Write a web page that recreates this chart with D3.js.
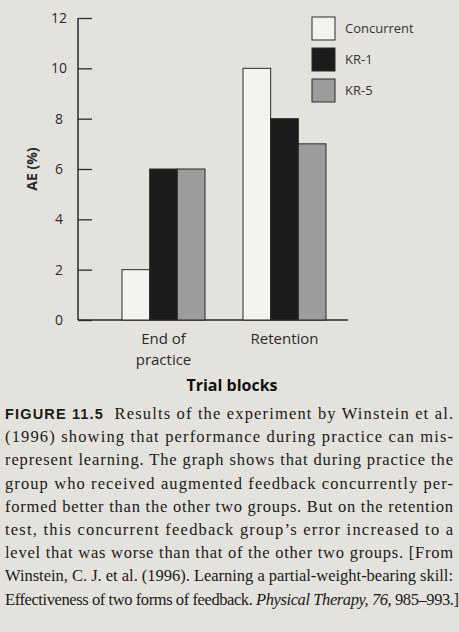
<!DOCTYPE html>
<html><head><meta charset="utf-8">
<script src="https://cdn.jsdelivr.net/npm/d3@7"></script>
<style>body{margin:0;background:#e4e2dc}svg{display:block}</style>
</head><body>
<svg id="chart" width="459" height="632"></svg>
<script>
// data
const blocks = ["End of practice", "Retention"];
const groups = ["Concurrent", "KR-1", "KR-5"];
const concurrent = [2, 10];
const kr1 = [6, 8];
const kr5 = [6, 7];
const yTicks = [0, 2, 4, 6, 8, 10, 12];
const captionLines = [
    [["FIGURE 11.5", "b"], ["  Results of the experiment by Winstein et al.", ""]],
    [["(1996) showing that performance during practice can mis-", ""]],
    [["represent learning. The graph shows that during practice the", ""]],
    [["group who received augmented feedback concurrently per-", ""]],
    [["formed better than the other two groups. But on the retention", ""]],
    [["test, this concurrent feedback group\u2019s error increased to a", ""]],
    [["level that was worse than that of the other two groups. [From", ""]],
    [["Winstein, C. J. et al. (1996). Learning a partial-weight-bearing skill:", ""]],
    [["Effectiveness of two forms of feedback. ", ""], ["Physical Therapy, 76,", "i"], [" 985\u2013993.]", ""]]
];

const series = [concurrent, kr1, kr5];
const fills = ["#f4f3ef", "#1c1c1c", "#9c9c9c"];
const ink = "#2a2a2a";
const svg = d3.select("#chart");

const y = d3.scaleLinear().domain([0, 12]).range([320, 18]);
const x0 = d3.scaleBand().domain(blocks).range([122, 326]).paddingInner(0.314).paddingOuter(0);
const x1 = d3.scaleBand().domain(groups).range([0, x0.bandwidth()]);

// axis
const axis = svg.append("g").attr("transform", "translate(78,0)")
    .call(d3.axisRight(y).tickValues(yTicks).tickSize(14).tickFormat(d => d === 0 ? "" : d));
axis.select(".domain").remove();
axis.selectAll("line").attr("stroke", ink).attr("stroke-width", 1.3);
axis.selectAll("text").remove();
svg.append("line").attr("x1", 78).attr("x2", 78).attr("y1", y(12)).attr("y2", y(0))
    .attr("stroke", ink).attr("stroke-width", 1.5);
svg.append("line").attr("x1", 78).attr("x2", 348).attr("y1", y(0)).attr("y2", y(0))
    .attr("stroke", ink).attr("stroke-width", 1.5);
svg.selectAll(".ylab").data(yTicks).join("text")
    .attr("x", 59).attr("y", d => y(d) + 5).attr("text-anchor", "middle")
    .attr("font-family", "Open Sans").attr("font-size", 14).attr("fill", ink)
    .text(d => d);
svg.append("text").attr("transform", "translate(37,169) rotate(-90)")
    .attr("text-anchor", "middle").attr("font-family", "Open Sans").attr("font-weight", "bold")
    .attr("font-size", 14).attr("fill", ink).text("AE (%)");

// bars
blocks.forEach((b, i) => {
    series.forEach((s, j) => {
        svg.append("rect")
            .attr("x", x0(b) + x1(groups[j])).attr("width", x1.bandwidth())
            .attr("y", y(s[i])).attr("height", y(0) - y(s[i]))
            .attr("fill", fills[j]).attr("stroke", ink).attr("stroke-width", 1);
    });
});

// category labels
const lab = svg.append("g").attr("font-family", "Open Sans").attr("font-size", 15)
    .attr("fill", ink).attr("text-anchor", "middle");
lab.append("text").attr("x", x0(blocks[0]) + x0.bandwidth() / 2).attr("y", 344).text("End of");
lab.append("text").attr("x", x0(blocks[0]) + x0.bandwidth() / 2).attr("y", 365).text("practice");
lab.append("text").attr("x", x0(blocks[1]) + x0.bandwidth() / 2).attr("y", 344).text("Retention");
svg.append("text").attr("x", 232).attr("y", 391).attr("text-anchor", "middle")
    .attr("font-family", "Open Sans").attr("font-weight", "bold").attr("font-size", 16)
    .attr("fill", "#111").text("Trial blocks");

// legend
groups.forEach((g, i) => {
    const ly = 17 + i * 31;
    svg.append("rect").attr("x", 312).attr("y", ly).attr("width", 23).attr("height", 23)
        .attr("fill", fills[i]).attr("stroke", ink);
    svg.append("text").attr("x", 345).attr("y", ly + 16).attr("font-family", "Open Sans")
        .attr("font-size", 13).attr("fill", "#333").text(g);
});

// caption
captionLines.forEach((parts, i) => {
    const t = svg.append("text").attr("x", 5).attr("y", 419 + i * 23.2)
        .attr("font-family", "Liberation Serif").attr("font-size", 16.5).attr("fill", "#1a1a1a")
        .attr("textLength", i === 8 ? 454 : 448).attr("lengthAdjust", "spacing")
        .attr("xml:space", "preserve");
    parts.forEach(([s, st]) => {
        const ts = t.append("tspan").text(s);
        if (st === "b") ts.attr("font-family", "Liberation Sans").attr("font-weight", "bold").attr("font-size", 14.5);
        if (st === "i") ts.attr("font-style", "italic");
    });
});
</script>
</body></html>
